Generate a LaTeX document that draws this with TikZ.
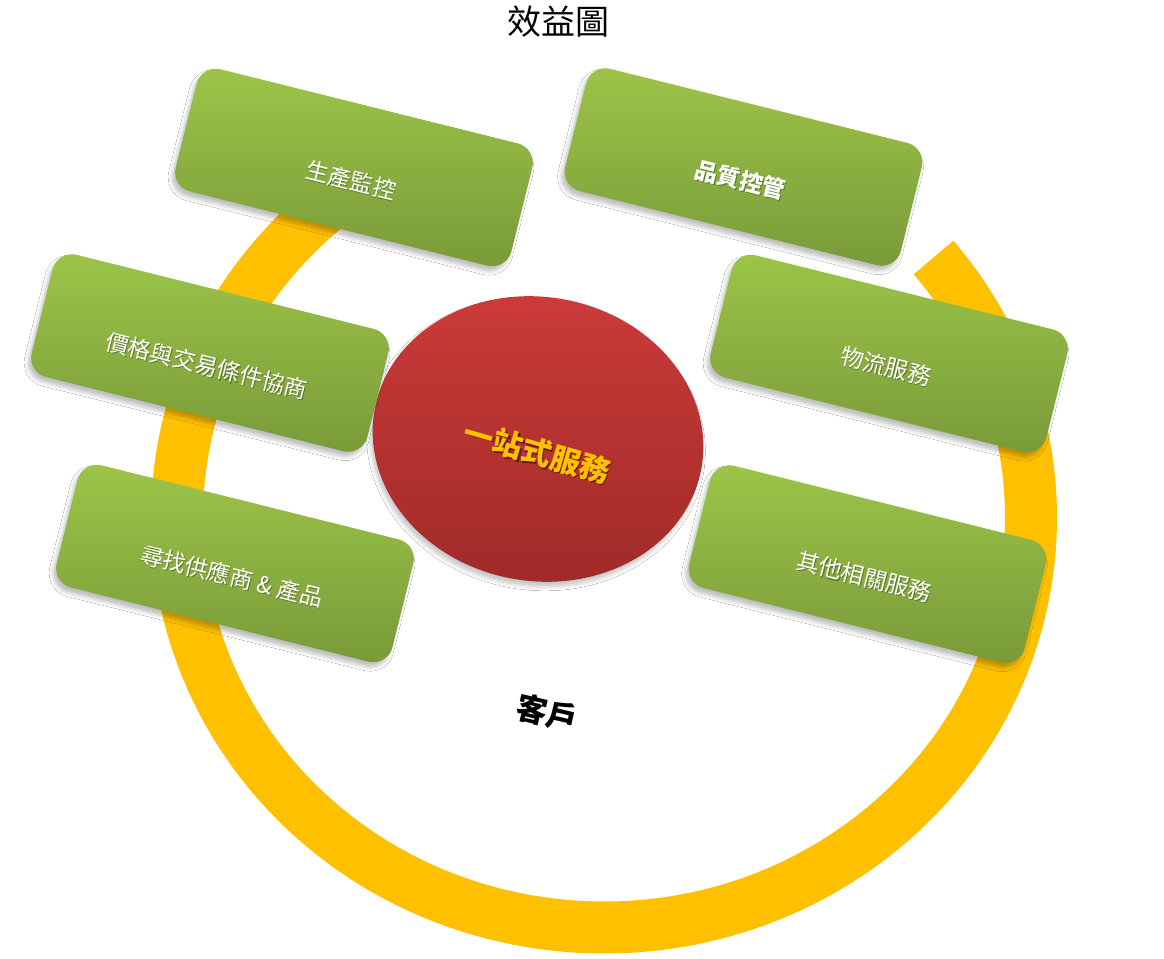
\documentclass[tikz,border=0pt]{standalone}
\usepackage{fontspec}
\setmainfont{Noto Sans CJK TC}
\usetikzlibrary{shapes.geometric,shadows.blur,calc}
\definecolor{ringc}{HTML}{FFC000}
\definecolor{gtop}{HTML}{9DC548}
\definecolor{gmid}{HTML}{92BA43}
\definecolor{gbot}{HTML}{789A39}
\definecolor{rtop}{HTML}{CD3B39}
\definecolor{rmid}{HTML}{BF3533}
\definecolor{rbot}{HTML}{A02B29}
\definecolor{goldt}{HTML}{FFC000}
\tikzset{
  card/.style={rounded corners=20pt, minimum width=346pt, minimum height=126pt,
    inner sep=0pt, rotate=-14, top color=gtop, middle color=gmid, bottom color=gbot,
    blur shadow={shadow xshift=-3pt, shadow yshift=-5pt, shadow blur radius=4pt, shadow opacity=25}},
  cardtxt/.style={rotate=-14, text=white, font=\fontsize{23}{28}\selectfont, inner sep=0pt},
  cardsh/.style={cardtxt, text=black, opacity=0.3},
  hubshape/.style={ellipse, minimum width=332pt, minimum height=284pt, inner sep=0pt,
    rotate=-10, top color=rtop, middle color=rmid, bottom color=rbot,
    blur shadow={shadow xshift=-2pt, shadow yshift=-5pt, shadow blur radius=4pt, shadow opacity=22}},
  hubtxt/.style={rotate=-16, text=goldt, font=\bfseries\fontsize{30}{35}\selectfont, inner sep=0pt},
  hubsh/.style={hubtxt, text=black, opacity=0.45},
}
\begin{document}
\begin{tikzpicture}[x=1pt,y=1pt]
\useasboundingbox (0,0) rectangle (1164,958);
\fill[white] (0,0) rectangle (1164,958);

% title
\node[font=\fontsize{34}{40}\selectfont, inner sep=0pt] (title) at (558,936) {效益圖};

% ring
\draw[ringc, line width=52pt] (604,440) ++(39.5:427 and 409.5)
  arc[start angle=39.5, end angle=-240, x radius=427, y radius=409.5];

% hub
\node[hubshape] (hub) at (538,519) {};
\node[hubsh] (hubs) at (538.5,504.5) {一站式服務};
\node[hubtxt] (hubt) at (537,506) {一站式服務};

% cards
\node[card] (b1) at (354,790.5) {};
\node[card] (b2) at (743.5,791) {};
\node[card] (b3) at (210,605) {};
\node[card] (b4) at (889,604.5) {};
\node[card] (b5) at (235,394.5) {};
\node[card] (b6) at (867.5,394) {};

% card texts
\node[cardsh] (s1) at ($(b1)+(-104:13)+(0.8,-1.2)$) {生產監控};
\node[cardtxt] (t1) at ($(b1)+(-104:13)$) {生產監控};
\node[cardsh, font=\bfseries\fontsize{23}{28}\selectfont] (s2) at ($(b2)+(-104:13)+(0.8,-1.2)$) {品質控管};
\node[cardtxt, font=\bfseries\fontsize{23}{28}\selectfont] (t2) at ($(b2)+(-104:13)$) {品質控管};
\node[cardsh] (s3) at ($(b3)+(-104:13)+(0.8,-1.2)$) {價格與交易條件協商};
\node[cardtxt] (t3) at ($(b3)+(-104:13)$) {價格與交易條件協商};
\node[cardsh] (s4) at ($(b4)+(-104:13)+(0.8,-1.2)$) {物流服務};
\node[cardtxt] (t4) at ($(b4)+(-104:13)$) {物流服務};
\node[cardsh] (s5) at ($(b5)+(-104:13)+(0.8,-1.2)$) {尋找供應商 \& 產品};
\node[cardtxt] (t5) at ($(b5)+(-104:13)$) {尋找供應商 \& 產品};
\node[cardsh] (s6) at ($(b6)+(-104:13)+(0.8,-1.2)$) {其他相關服務};
\node[cardtxt] (t6) at ($(b6)+(-104:13)$) {其他相關服務};

% customer
\node[font=\bfseries\fontsize{31}{36}\selectfont, rotate=-13, inner sep=0pt] (kehu) at (547,245) {客戶};
\end{tikzpicture}
\end{document}
